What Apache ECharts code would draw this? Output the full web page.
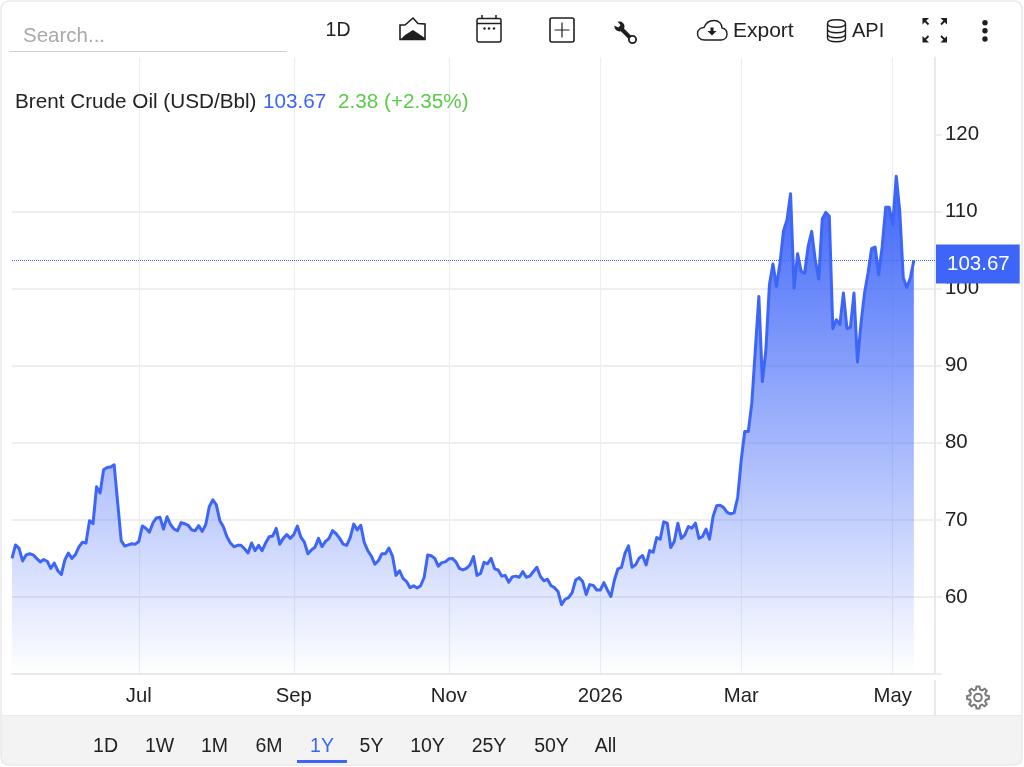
<!DOCTYPE html>
<html>
<head>
<meta charset="utf-8">
<title>Brent Crude Oil</title>
<style>
  html, body { margin: 0; padding: 0; background: #fff; }
  #chart { width: 1024px; height: 767px; }
</style>
<script src="https://cdn.jsdelivr.net/npm/echarts@6/dist/echarts.min.js"></script>
</head>
<body>
<div id="chart"></div>
<script>
// Daily Brent closes (USD/Bbl), grouped by the two-month block that each axis label opens.
const closesMayJun = [65.0, 66.75, 66.3, 64.67, 65.45, 65.6, 65.45, 65.0, 64.55, 64.85, 64.63, 63.7, 64.4, 63.4, 62.9, 64.8, 65.7, 65.0, 65.5, 66.5, 67.1, 67.0, 69.9, 69.5, 74.3, 73.5, 76.5, 76.8, 76.85, 77.15, 72.2, 67.3, 66.6, 66.75, 66.9, 66.85];
const closesJulAug = [67.2, 69.2, 68.9, 68.4, 69.6, 70.25, 70.35, 68.8, 70.4, 69.4, 68.8, 68.6, 69.65, 69.5, 69.3, 68.7, 68.6, 69.25, 68.5, 69.4, 71.7, 72.6, 71.95, 69.9, 69.1, 67.8, 67.0, 66.5, 66.7, 66.7, 66.25, 65.7, 67.0, 66.0, 66.7, 66.0, 67.0, 67.8, 67.9, 68.9, 66.85, 67.6, 68.1, 67.6];
const closesSepOct = [68.1, 69.2, 67.75, 67.1, 65.6, 66.1, 66.45, 67.6, 66.54, 67.2, 67.6, 68.6, 68.2, 67.6, 66.85, 66.7, 67.7, 69.45, 68.7, 69.3, 67.05, 66.0, 65.3, 64.25, 64.7, 65.6, 65.6, 66.35, 65.3, 62.8, 63.4, 62.4, 62.0, 61.2, 61.45, 61.15, 61.45, 62.55, 65.45, 65.35, 65.0, 64.0, 64.45, 64.55];
const closesNovDec = [64.95, 65.0, 64.55, 63.7, 63.5, 63.7, 64.15, 65.25, 62.8, 63.05, 64.5, 64.3, 65.0, 63.65, 63.5, 62.7, 62.8, 61.9, 62.6, 62.7, 62.55, 63.3, 62.55, 62.7, 63.3, 63.85, 62.65, 62.1, 62.3, 61.45, 61.2, 60.7, 59.0, 59.7, 59.9, 60.55, 62.2, 62.5, 62.0, 60.3, 61.6, 61.5, 60.9];
const closesJanFeb = [60.9, 61.85, 60.9, 60.05, 62.2, 63.65, 63.85, 65.67, 66.63, 63.85, 64.16, 65.03, 65.37, 64.16, 66.02, 65.8, 67.7, 67.5, 69.74, 69.57, 66.4, 67.2, 69.57, 67.6, 68.05, 69.14, 68.92, 69.57, 67.6, 67.84, 68.8, 67.5, 70.44, 71.82, 71.9, 71.6, 70.96, 70.78, 70.95, 72.94];
const closesMarApr = [77.8, 81.47, 81.47, 85.15, 92.07, 99.0, 87.96, 92.07, 100.5, 103.2, 100.3, 103.3, 107.5, 108.96, 112.33, 100.08, 104.54, 102.25, 102.03, 105.5, 107.44, 103.76, 101.25, 109.04, 109.9, 109.39, 94.8, 95.97, 95.32, 99.43, 94.84, 94.97, 99.43, 90.47, 95.54, 99.43, 102.03, 105.19, 105.41, 101.82, 105.41, 110.56, 110.56];
const closesMay = [108.3, 114.59, 110.04, 101.38, 100.17, 101.38, 103.67];

const blocks = [closesMayJun, closesJulAug, closesSepOct, closesNovDec, closesJanFeb, closesMarApr, closesMay];
const blockLabels = ['', 'Jul', 'Sep', 'Nov', '2026', 'Mar', 'May'];
const blankSessions = 6;   // empty slots kept to the right of the latest close

const priceTicks = [60, 70, 80, 90, 100, 110, 120];
const rangeButtons = ['1D', '1W', '1M', '6M', '1Y', '5Y', '10Y', '25Y', '50Y', 'All'];
const activeRange = '1Y';
const instrument = 'Brent Crude Oil (USD/Bbl)';
const latest = 103.67;
const changeText = '2.38 (+2.35%)';

const closes = blocks.flat();
const sessionLabels = [];
blocks.forEach((block, b) => block.forEach((_, i) => sessionLabels.push(i === 0 ? blockLabels[b] : '')));
for (let i = 0; i < blankSessions; i++) sessionLabels.push('');
const sessions = sessionLabels.map((_, i) => String(i));
const isLabelled = (i) => sessionLabels[i] !== '';

const FONT = '"Liberation Sans", Arial, sans-serif';
const INK = '#222';
const BLUE = '#3d65f8';
const RULE = '#e9e9e9';
const ICON = '#1e1e1e';

const font = (size) => `${size}px ${FONT}`;
const label = (text, x, y, size, color, align) => ({
  type: 'text',
  style: { text, x, y, font: font(size), fill: color || INK, textAlign: align || 'left', textVerticalAlign: 'middle' }
});
const stroke = (pathData, width, color) => ({
  type: 'path',
  shape: { pathData },
  style: { fill: null, stroke: color || ICON, lineWidth: width || 1.5 }
});
const fill = (pathData, color) => ({
  type: 'path',
  shape: { pathData },
  style: { fill: color || ICON, stroke: null }
});
const dot = (cx, cy, r, color) => ({
  type: 'circle',
  shape: { cx, cy, r },
  style: { fill: color || ICON, stroke: null }
});
const rect = (x, y, width, height, style, r) => ({
  type: 'rect',
  shape: { x, y, width, height, r: r || 0 },
  style
});

// Builds the outline of the settings cog.
function gearPath(cx, cy, outer, inner, teeth) {
  let d = '';
  const step = Math.PI * 2 / teeth;
  for (let t = 0; t < teeth; t++) {
    const a = t * step - Math.PI / 2;
    const corners = [[inner, a - step * 0.34], [outer, a - step * 0.17], [outer, a + step * 0.17], [inner, a + step * 0.34]];
    corners.forEach(([r, ang], k) => {
      d += `${t === 0 && k === 0 ? 'M' : 'L'}${(cx + r * Math.cos(ang)).toFixed(2)} ${(cy + r * Math.sin(ang)).toFixed(2)} `;
    });
  }
  return d + 'Z';
}

const rangeX = { '1D': 105.5, '1W': 159.5, '1M': 214.5, '6M': 269, '1Y': 322, '5Y': 371.5, '10Y': 427.5, '25Y': 489, '50Y': 551.5, 'All': 605.5 };

const chrome = [
  // Footer band and panel frame
  rect(1, 716, 1021, 48, { fill: '#f3f3f3', stroke: null }),
  stroke('M1 715.5 L1022 715.5', 1, RULE),
  rect(1, 1, 1021, 764, { fill: null, stroke: RULE, lineWidth: 1.5 }, 8),
  stroke('M935 680 L935 715', 2, RULE),

  // Search box
  label('Search...', 23, 36, 20.5, '#a9a9a9'),
  stroke('M9 51.5 L287 51.5', 1, '#cfcfcf'),

  // Toolbar
  label('1D', 338, 31, 19.5, INK, 'center'),

  stroke('M400 25 L405 25 L413 18 L418 23.5 L425 24 L425 39.5 L400 39.5 Z', 1.6),
  fill('M400 40 L405 35 L413 30 L425 38 L425 40 Z'),

  rect(477, 18.5, 24, 23.5, { fill: null, stroke: ICON, lineWidth: 1.5 }, 2),
  stroke('M477 23.5 L501 23.5 M482 15 L482 18.5 M496 15 L496 18.5', 1.5),
  dot(484.5, 28.5, 1.2), dot(489, 28.5, 1.2), dot(494, 28.5, 1.2),

  rect(550, 18, 24, 24, { fill: null, stroke: ICON, lineWidth: 1.6 }, 2),
  stroke('M562 22.5 L562 37.5 M554.5 30 L569.5 30', 1.2),

  stroke('M620 27.5 L630 37.5', 4),
  dot(619.5, 26.5, 5),
  { type: 'polygon', shape: { points: [[616, 20], [613, 25], [618.5, 27.5], [620.5, 25]] }, style: { fill: '#fff', stroke: null } },
  { type: 'circle', shape: { cx: 632.5, cy: 39.5, r: 3.6 }, style: { fill: '#fff', stroke: ICON, lineWidth: 1.8 } },

  stroke('M705 40 C699 40 697.5 36 697.5 33.5 C697.5 29.5 701 27.5 704 27.5 C706 22.5 710 20.5 714 20.5 C719 20.5 722 24 722 28 C725 28.5 727 31 727 34 C727 38 724 40 721 40 Z', 1.4),
  fill('M710.5 27.5 L713.5 27.5 L713.5 31 L716.5 31 L712 35.5 L707.5 31 L710.5 31 Z'),
  label('Export', 733, 31.5, 21, INK),

  stroke('M827.5 23.5 C827.5 18.5 845.5 18.5 845.5 23.5 C845.5 28.5 827.5 28.5 827.5 23.5 L827.5 38 C827.5 43 845.5 43 845.5 38 L845.5 23.5 M827.5 29 C827.5 34 845.5 34 845.5 29 M827.5 34 C827.5 39 845.5 39 845.5 34', 1.4),
  label('API', 852, 31.5, 20, INK),

  stroke('M924 20 L928.5 24.5 M945.5 20 L941 24.5 M924 40.5 L928.5 36 M945.5 40.5 L941 36', 1.8),
  fill('M922.5 18 L929 18 L922.5 24.5 Z'),
  fill('M947 18 L940.5 18 L947 24.5 Z'),
  fill('M922.5 42.5 L929 42.5 L922.5 36 Z'),
  fill('M947 42.5 L940.5 42.5 L947 36 Z'),

  dot(985, 22.7, 2.7), dot(985, 30.7, 2.7), dot(985, 39, 2.7),

  // Quote header
  label(instrument, 15, 102, 20.7),
  label(latest.toFixed(2), 263, 102, 20.7, BLUE),
  label(changeText, 338, 102, 20.7, '#5ccb4a'),

  // Chart settings cog
  stroke(gearPath(978, 697.5, 11, 8.2, 8), 2, '#7a7a7a'),
  { type: 'circle', shape: { cx: 978, cy: 697.5, r: 3.8 }, style: { fill: null, stroke: '#7a7a7a', lineWidth: 2 } },

  // Range selector
  ...rangeButtons.map((b) => label(b, rangeX[b], 746.5, 19.5, b === activeRange ? BLUE : INK, 'center')),
  rect(297, 760, 50, 3, { fill: BLUE, stroke: null })
];

const chart = echarts.init(document.getElementById('chart'), null, { renderer: 'canvas' });
chart.setOption({
  animation: false,
  backgroundColor: '#fff',
  grid: { left: 12, right: 89, top: 57.5, bottom: 93, containLabel: false },
  xAxis: {
    type: 'category',
    data: sessions,
    boundaryGap: false,
    axisLine: { show: true, lineStyle: { color: RULE, width: 2 } },
    axisTick: { show: false },
    axisLabel: {
      interval: (i) => isLabelled(i),
      formatter: (_, i) => sessionLabels[i],
      hideOverlap: false,
      color: INK,
      fontFamily: FONT,
      fontSize: 20.3,
      margin: 12
    },
    splitLine: {
      show: true,
      interval: (i) => isLabelled(i),
      lineStyle: { color: '#e9eff4', width: 1.2 }
    }
  },
  yAxis: {
    type: 'value',
    position: 'right',
    min: 50,
    max: 130,
    interval: 10,
    axisLine: { show: true, onZero: false, lineStyle: { color: RULE, width: 2 } },
    axisTick: { show: true, length: 7, lineStyle: { color: RULE, width: 1.5 }, customValues: [50, ...priceTicks] },
    axisLabel: { color: INK, fontFamily: FONT, fontSize: 20.4, margin: 10, padding: [2, 0, 0, 0], customValues: priceTicks },
    splitLine: { show: true, showMinLine: false, showMaxLine: false, lineStyle: { color: RULE, width: 1.5 } }
  },
  series: [{
    name: 'Brent Crude Oil',
    type: 'line',
    data: closes,
    symbol: 'none',
    smooth: false,
    lineStyle: { color: BLUE, width: 3, join: 'round' },
    areaStyle: {
      opacity: 1,
      color: new echarts.graphic.LinearGradient(0, 0, 0, 1, [
        { offset: 0, color: 'rgba(61,101,248,1)' },
        { offset: 1, color: 'rgba(61,101,248,0)' }
      ])
    },
    markLine: {
      silent: true,
      symbol: 'none',
      animation: false,
      lineStyle: { color: BLUE, type: 'dotted', width: 1 },
      label: {
        show: true,
        position: 'end',
        distance: 1,
        offset: [0, 3.5],
        formatter: () => latest.toFixed(2),
        color: '#fff',
        fontFamily: FONT,
        fontSize: 20.5,
        backgroundColor: BLUE,
        padding: [9, 10, 9, 11]
      },
      data: [{ yAxis: latest }]
    }
  }, {
    // Toolbar, quote header, settings cog and range selector around the plot
    name: 'panel',
    type: 'custom',
    coordinateSystem: 'none',
    silent: true,
    clip: false,
    z: 10,
    data: [0],
    renderItem: () => ({ type: 'group', children: chrome })
  }]
});
</script>
</body>
</html>
